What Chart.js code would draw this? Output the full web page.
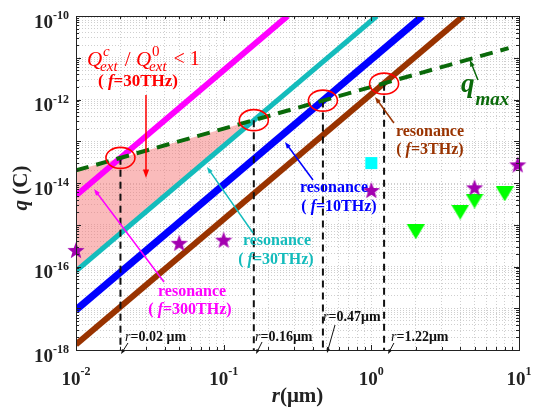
<!DOCTYPE html>
<html>
<head>
<meta charset="utf-8">
<script src="https://cdn.jsdelivr.net/npm/chart.js@4.4.1/dist/chart.umd.min.js"></script>
<style>
  html, body { margin: 0; padding: 0; background: #fff; }
  #wrap { width: 538px; height: 415px; position: relative; }
</style>
</head>
<body>
<div id="wrap"><canvas id="chart"></canvas></div>
<script>
// axis ranges / tick labels
const rDecades = [-2, -1, 0, 1];
const qDecades = [-18, -17, -16, -15, -14, -13, -12, -11, -10];
const qLabelDecades = [-18, -16, -14, -12, -10];
const minorSteps = [1, 2, 3, 4, 5, 6, 7, 8, 9];

// resonance lines q(r), two end points each [r, q]
const res300 = [[0.01, 5.0e-15], [0.271, 1e-10]];
const res30 = [[0.01, 7.8e-17], [1.09, 1e-10]];
const res10 = [[0.01, 9.1e-18], [2.22, 1e-10]];
const res3 = [[0.01, 1.35e-18], [4.2, 1e-10]];
const qmaxLine = [[0.01, 2.0e-14], [8.5, 1.7e-11]];
const shadedRegion = [[0.01, 2.0e-14], [0.16, 3.2e-13], [0.01, 7.8e-17]];

// crossings of the resonance lines with q_max
const crossingR = [0.02, 0.16, 0.47, 1.22];
const crossingQ = [4.0e-14, 3.2e-13, 9.4e-13, 2.4e-12];
const crossingText = ['0.02 \u03bcm', '0.16\u03bcm', '0.47\u03bcm', '1.22\u03bcm'];

// measured points
const starR = [0.01, 0.05, 0.1, 1.0, 5.0, 9.8];
const starQ = [2.5e-16, 3.7e-16, 4.4e-16, 6.8e-15, 7.9e-15, 2.8e-14];
const squareR = [1.0];
const squareQ = [3.0e-14];
const triR = [2, 4, 5, 8];
const triQ = [6.8e-16, 2.0e-15, 3.7e-15, 5.5e-15];

const SERIF = "'Liberation Serif', 'Times New Roman', serif";
const MAGENTA = '#ff00ff', CYAN = '#14bcbc', BLUE = '#0000ff', BROWN = '#993300';
const GREEN = '#0a6a0a', RED = '#ff0000';

const pts = arr => arr.map(p => ({ x: p[0], y: p[1] }));
const zip = (xs, ys) => xs.map((x, i) => ({ x, y: ys[i] }));

function ticksFor(decades) {
  const out = [];
  decades.slice(0, -1).forEach(d => minorSteps.forEach(m => out.push({ value: m * Math.pow(10, d) })));
  out.push({ value: Math.pow(10, decades[decades.length - 1]) });
  return out;
}

function starImage(size, color) {
  const c = document.createElement('canvas');
  c.width = c.height = size;
  const g = c.getContext('2d');
  const R = size / 2, r = R * 0.42;
  g.beginPath();
  for (let i = 0; i < 10; i++) {
    const a = -Math.PI / 2 + i * Math.PI / 5;
    const rr = i % 2 ? r : R;
    g.lineTo(R + rr * Math.cos(a), R + 1 + rr * Math.sin(a));
  }
  g.closePath();
  g.fillStyle = color;
  g.fill();
  return c;
}

function triImage(w, h, color) {
  const c = document.createElement('canvas');
  c.width = w; c.height = h;
  const g = c.getContext('2d');
  g.beginPath();
  g.moveTo(0, 0); g.lineTo(w, 0); g.lineTo(w / 2, h);
  g.closePath();
  g.fillStyle = color;
  g.fill();
  return c;
}

function font(size, style) {
  return (style || '') + ' ' + size + 'px ' + SERIF;
}

// parts: [text, size, style, dy]
function rich(ctx, parts, x, y, align, color) {
  let w = 0;
  parts.forEach(p => { ctx.font = font(p[1], p[2]); p.w = ctx.measureText(p[0]).width; w += p.w; });
  let cx = align === 'center' ? x - w / 2 : align === 'right' ? x - w : x;
  ctx.fillStyle = color;
  ctx.textAlign = 'left';
  parts.forEach(p => { ctx.font = font(p[1], p[2]); ctx.fillText(p[0], cx, y + (p[3] || 0)); cx += p.w; });
}

function arrow(ctx, a, b, color, width, head) {
  const ang = Math.atan2(b[1] - a[1], b[0] - a[0]);
  ctx.save();
  ctx.strokeStyle = color; ctx.fillStyle = color; ctx.lineWidth = width;
  ctx.beginPath();
  ctx.moveTo(a[0], a[1]);
  ctx.lineTo(b[0] - Math.cos(ang) * head * 0.8, b[1] - Math.sin(ang) * head * 0.8);
  ctx.stroke();
  ctx.beginPath();
  ctx.moveTo(b[0], b[1]);
  ctx.lineTo(b[0] - head * Math.cos(ang - 0.35), b[1] - head * Math.sin(ang - 0.35));
  ctx.lineTo(b[0] - head * Math.cos(ang + 0.35), b[1] - head * Math.sin(ang + 0.35));
  ctx.closePath();
  ctx.fill();
  ctx.restore();
}

const decor = {
  id: 'decor',
  afterDraw(chart) {
    const ctx = chart.ctx;
    const xs = chart.scales.x, ys = chart.scales.y;
    const area = chart.chartArea;
    const at = (lr, lq) => [xs.getPixelForValue(Math.pow(10, lr)), ys.getPixelForValue(Math.pow(10, lq))];
    ctx.save();

    // ellipses at crossings
    ctx.strokeStyle = RED; ctx.lineWidth = 1.6;
    crossingR.forEach((r, i) => {
      const px = xs.getPixelForValue(r), py = ys.getPixelForValue(crossingQ[i]);
      ctx.beginPath();
      ctx.ellipse(px, py, 14.5, 10.5, 0, 0, Math.PI * 2);
      ctx.stroke();
    });

    // box and inward ticks
    ctx.strokeStyle = '#222'; ctx.lineWidth = 1;
    ctx.strokeRect(Math.round(area.left) + 0.5, Math.round(area.top) + 0.5,
      Math.round(area.right - area.left), Math.round(area.bottom - area.top));
    ctx.beginPath();
    xs.ticks.forEach(t => {
      const px = Math.round(xs.getPixelForValue(t.value)) + 0.5;
      const len = Number.isInteger(Math.log10(t.value)) ? 5 : 3;
      ctx.moveTo(px, area.bottom); ctx.lineTo(px, area.bottom - len);
      ctx.moveTo(px, area.top); ctx.lineTo(px, area.top + len);
    });
    ys.ticks.forEach(t => {
      const py = Math.round(ys.getPixelForValue(t.value)) + 0.5;
      const len = Math.abs(Math.log10(t.value) - Math.round(Math.log10(t.value))) < 1e-6 ? 5 : 3;
      ctx.moveTo(area.left, py); ctx.lineTo(area.left + len, py);
      ctx.moveTo(area.right, py); ctx.lineTo(area.right - len, py);
    });
    ctx.stroke();

    // tick labels 10^n
    ctx.textBaseline = 'middle';
    qLabelDecades.forEach(d => {
      const py = ys.getPixelForValue(Math.pow(10, d));
      rich(ctx, [['10', 19, 'bold', 7], [String(d).replace('-', '-'), 12, 'bold', 0]], area.left - 7, py, 'right', '#222');
    });
    rDecades.forEach(d => {
      const px = xs.getPixelForValue(Math.pow(10, d));
      rich(ctx, [['10', 19, 'bold', 0], [String(d), 12, 'bold', -8]], px, area.bottom + 30, 'center', '#222');
    });

    // axis titles
    rich(ctx, [['r', 21, 'italic bold'], ['(\u03bcm)', 21, 'bold']], (area.left + area.right) / 2, area.bottom + 47, 'center', '#222');
    ctx.save();
    ctx.translate(22, (area.top + area.bottom) / 2 + 5);
    ctx.rotate(-Math.PI / 2);
    rich(ctx, [['q', 21, 'italic bold'], [' (C)', 21, 'bold']], 0, 0, 'center', '#222');
    ctx.restore();

    // red formula
    let p = at(-1.926, -11.054);
    ctx.fillStyle = RED;
    ctx.textAlign = 'left';
    let x = p[0];
    ctx.font = font(21, 'italic');
    ctx.fillText('Q', x, p[1]); x += ctx.measureText('Q').width;
    ctx.font = font(15, 'italic');
    ctx.fillText('c', x + 1, p[1] - 8);
    ctx.fillText('ext', x - 2, p[1] + 7); x += ctx.measureText('ext').width;
    ctx.font = font(21, '');
    ctx.fillText(' / ', x, p[1]); x += ctx.measureText(' / ').width;
    ctx.font = font(21, 'italic');
    ctx.fillText('Q', x, p[1]); x += ctx.measureText('Q').width;
    ctx.font = font(15, '');
    ctx.fillText('0', x + 1, p[1] - 8);
    ctx.font = font(15, 'italic');
    ctx.fillText('ext', x - 2, p[1] + 7); x += ctx.measureText('ext').width;
    ctx.font = font(20, '');
    ctx.fillText(' < 1', x, p[1]);
    p = at(-1.580, -11.581);
    rich(ctx, [['( ', 17, 'bold'], ['f', 17, 'italic bold'], ['=30THz)', 17, 'bold']], p[0], p[1], 'center', RED);
    arrow(ctx, at(-1.526, -11.892), at(-1.526, -13.880), RED, 1.5, 9);

    // resonance labels
    const resLabels = [
      [MAGENTA, '=300THz)', [-1.214, -16.611], [-1.228, -17.042], [-1.404, -16.371], [-1.878, -14.144]],
      [CYAN, '=30THz)', [-0.639, -15.389], [-0.646, -15.844], [-0.801, -15.198], [-1.113, -13.617]],
      [BLUE, '=10THz)', [-0.253, -14.120], [-0.219, -14.575], [-0.395, -13.928], [-0.585, -13.018]],
      [BROWN, '=3THz)', [0.397, -12.778], [0.397, -13.210], [0.153, -12.563], [0.025, -11.940]]
    ];
    resLabels.forEach(l => {
      let a = at(l[2][0], l[2][1]);
      rich(ctx, [['resonance', 16, 'bold']], a[0], a[1], 'center', l[0]);
      a = at(l[3][0], l[3][1]);
      rich(ctx, [['( ', 16, 'bold'], ['f', 16, 'italic bold'], [l[1], 16, 'bold']], a[0], a[1], 'center', l[0]);
      arrow(ctx, at(l[4][0], l[4][1]), at(l[5][0], l[5][1]), l[0], 1.5, 7);
    });

    // q_max label
    ctx.textBaseline = 'alphabetic';
    p = at(0.607, -11.82);
    ctx.fillStyle = GREEN;
    ctx.font = font(27, 'italic bold');
    ctx.fillText('q', p[0], p[1]);
    const qw = ctx.measureText('q').width;
    ctx.font = font(19, 'italic bold');
    ctx.fillText('max', p[0] + qw + 1, ys.getPixelForValue(Math.pow(10, -12.132)));
    arrow(ctx, at(0.722, -11.533), at(0.668, -11.054), GREEN, 1.5, 7);

    // r = ... labels
    ctx.textBaseline = 'middle';
    const rLabelPos = [[-1.668, -17.689], [-0.788, -17.689], [-0.327, -17.21], [0.133, -17.689]];
    const rArrows = [
      [[-1.648, -17.832], [-1.695, -18.096]],
      [[-0.740, -17.808], [-0.781, -18.096]],
      [[-0.246, -17.401], [-0.300, -18.072]],
      [[0.153, -17.832], [0.113, -18.096]]
    ];
    crossingText.forEach((t, i) => {
      const a = at(rLabelPos[i][0], rLabelPos[i][1]);
      rich(ctx, [['r', 14, 'italic'], ['=' + t, 14, 'bold']], a[0], a[1], 'left', '#111');
      arrow(ctx, at(rArrows[i][0][0], rArrows[i][0][1]), at(rArrows[i][1][0], rArrows[i][1][1]), '#111', 1, 5);
    });

    ctx.restore();
  }
};

const lineSet = (data, color, width) => ({
  data: pts(data), showLine: true, borderColor: color, borderWidth: width,
  pointRadius: 0, fill: false, borderCapStyle: 'butt'
});

const datasets = [
  { data: zip(starR, starQ), pointStyle: starImage(18, '#a300b0'), pointRadius: 9, clip: false },
  { data: zip(squareR, squareQ), pointStyle: 'rect', pointRadius: 8.5, backgroundColor: '#00ffff', borderWidth: 0, clip: false },
  { data: zip(triR, triQ), pointStyle: triImage(18, 15, '#00ff00'), pointRadius: 9, clip: false },
  Object.assign(lineSet(qmaxLine, GREEN, 4), { borderDash: [13, 8] }),
  ...crossingR.map((r, i) => Object.assign(lineSet([[r, crossingQ[i]], [r, Math.pow(10, qDecades[0])]], '#111', 2), { borderDash: [7, 5] })),
  lineSet(res3, BROWN, 6),
  lineSet(res10, BLUE, 7),
  lineSet(res30, CYAN, 5),
  lineSet(res300, MAGENTA, 6),
  { data: pts(shadedRegion), showLine: true, borderWidth: 0, pointRadius: 0, fill: 'shape', backgroundColor: 'rgba(245, 120, 120, 0.5)' }
];

const gridOpts = {
  color: '#cfcfcf', lineWidth: 1, drawTicks: false
};

new Chart(document.getElementById('chart'), {
  type: 'scatter',
  data: { datasets },
  options: {
    responsive: true,
    maintainAspectRatio: false,
    animation: false,
    layout: { padding: { left: 76, right: 19, top: 16, bottom: 65 } },
    plugins: { legend: { display: false }, tooltip: { enabled: false } },
    scales: {
      x: {
        type: 'logarithmic', min: Math.pow(10, rDecades[0]), max: Math.pow(10, rDecades[rDecades.length - 1]),
        afterBuildTicks: s => { s.ticks = ticksFor(rDecades); },
        ticks: { display: false, autoSkip: false },
        grid: gridOpts,
        border: { display: false, dash: [1, 2] }
      },
      y: {
        type: 'logarithmic', min: Math.pow(10, qDecades[0]), max: Math.pow(10, qDecades[qDecades.length - 1]),
        afterBuildTicks: s => { s.ticks = ticksFor(qDecades); },
        ticks: { display: false, autoSkip: false },
        grid: gridOpts,
        border: { display: false, dash: [1, 2] }
      }
    }
  },
  plugins: [decor]
});
</script>
</body>
</html>
